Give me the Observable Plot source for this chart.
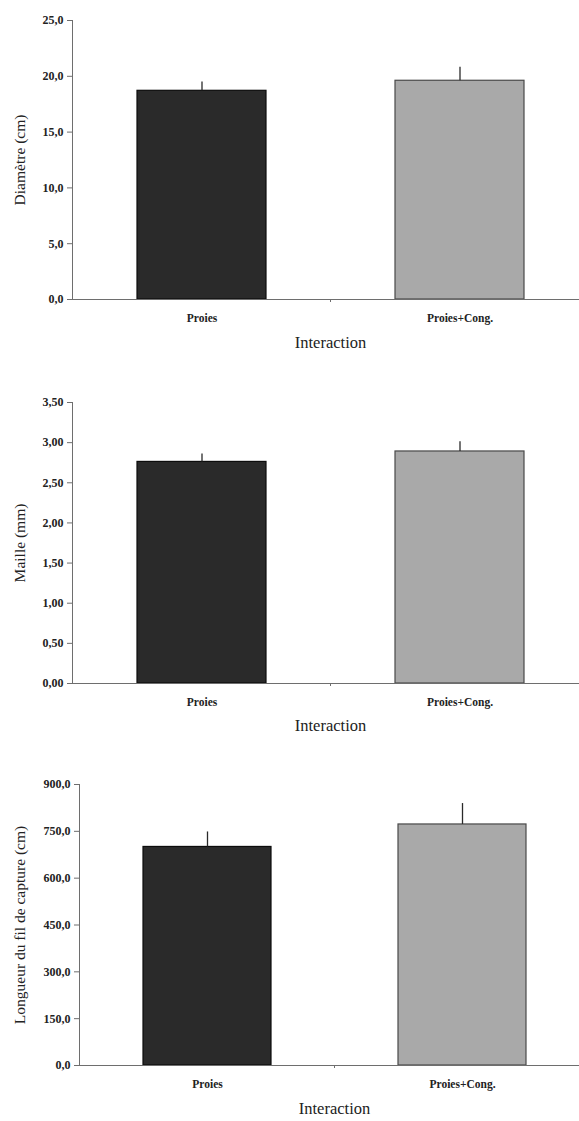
<!DOCTYPE html>
<html><head><meta charset="utf-8">
<script src="https://cdn.jsdelivr.net/npm/d3@7"></script>
<script src="https://cdn.jsdelivr.net/npm/@observablehq/plot@0.6"></script>
<style>
body{margin:0;background:#fff;overflow:hidden}
#root{position:relative;width:579px;height:1121px}
.panel{position:absolute;left:0}
.panel svg{max-width:none}
</style></head><body><div id="root"></div>
<script>
const categories = ["Proies", "Proies+Cong."];
const xTitle = "Interaction";

const diametreMeans = [18.7, 19.6];
const diametreErrors = [0.8, 1.2];
const diametreTicks = [0, 5, 10, 15, 20, 25];
const diametreTitle = "Diamètre (cm)";

const mailleMeans = [2.76, 2.89];
const mailleErrors = [0.10, 0.12];
const mailleTicks = [0, 0.5, 1, 1.5, 2, 2.5, 3, 3.5];
const mailleTitle = "Maille (mm)";

const longueurMeans = [700, 772];
const longueurErrors = [48, 67];
const longueurTicks = [0, 150, 300, 450, 600, 750, 900];
const longueurTitle = "Longueur du fil de capture (cm)";

const FONT = "'Liberation Serif', 'DejaVu Serif', serif";
const AX = "#6e6e6e";
const barFills = ["#2a2a2a", "#a9a9a9"];
const barStrokes = ["#0c0c0c", "#4a4a4a"];

const fmt = (digits) => (v) => d3.format("." + digits + "f")(v).replace(".", ",");

function panel(cfg) {
  const data = categories.map((c, i) => ({cat: c, value: cfg.means[i], err: cfg.errors[i]}));
  const plot = Plot.plot({
    width: 579, height: cfg.height,
    marginTop: cfg.marginTop, marginBottom: cfg.marginBottom,
    marginLeft: cfg.marginLeft, marginRight: cfg.marginRight,
    style: {fontFamily: FONT, color: "#222", background: "transparent"},
    x: {domain: categories, paddingInner: 0.5, paddingOuter: 0.25},
    y: {domain: [0, cfg.ticks[cfg.ticks.length - 1]]},
    color: {type: "identity"},
    marks: [
      Plot.barY(data, {x: "cat", y: "value", fill: (d, i) => barFills[i], stroke: (d, i) => barStrokes[i], strokeWidth: 1.2}),
      Plot.ruleX(data, {x: "cat", y1: "value", y2: d => d.value + d.err, stroke: "#2a2a2a", strokeWidth: 1.3}),
      Plot.frame({anchor: "left", stroke: AX}),
      Plot.ruleY([0], {stroke: AX}),
      Plot.axisY({ticks: cfg.ticks, tickFormat: cfg.format, tickSize: 5, tickPadding: 4, fontSize: 12, fontWeight: "bold", stroke: AX, label: null}),
      Plot.axisX({tickSize: 0, tickPadding: 14, fontSize: 11.5, fontWeight: "bold", label: null}),
      Plot.text([cfg.title], {text: d => d, frameAnchor: "left", textAnchor: "middle", rotate: -90, dx: cfg.titleDx, fontSize: 15.5}),
      Plot.text([xTitle], {text: d => d, frameAnchor: "bottom", dy: cfg.xTitleDy, fontSize: 16.5})
    ]
  });
  const sx = plot.scale("x");
  const mid = (sx.apply(categories[0]) + sx.bandwidth + sx.apply(categories[1])) / 2;
  const yAxis = cfg.height - cfg.marginBottom;
  d3.select(plot).append("line").attr("x1", mid).attr("x2", mid).attr("y1", yAxis).attr("y2", yAxis + 3).attr("stroke", AX);
  const div = document.createElement("div");
  div.className = "panel";
  div.style.top = cfg.top + "px";
  div.appendChild(plot);
  document.getElementById("root").appendChild(div);
}

panel({top: 0, height: 360, marginTop: 20, marginBottom: 61, marginLeft: 72, marginRight: -9,
  means: diametreMeans, errors: diametreErrors, ticks: diametreTicks, format: fmt(1),
  title: diametreTitle, titleDx: -52, xTitleDy: 48});
panel({top: 380, height: 380, marginTop: 22, marginBottom: 77, marginLeft: 72, marginRight: -9,
  means: mailleMeans, errors: mailleErrors, ticks: mailleTicks, format: fmt(2),
  title: mailleTitle, titleDx: -52, xTitleDy: 47});
panel({top: 760, height: 361, marginTop: 24, marginBottom: 56, marginLeft: 79, marginRight: -10,
  means: longueurMeans, errors: longueurErrors, ticks: longueurTicks, format: fmt(1),
  title: longueurTitle, titleDx: -59, xTitleDy: 48});
</script>
</body></html>
